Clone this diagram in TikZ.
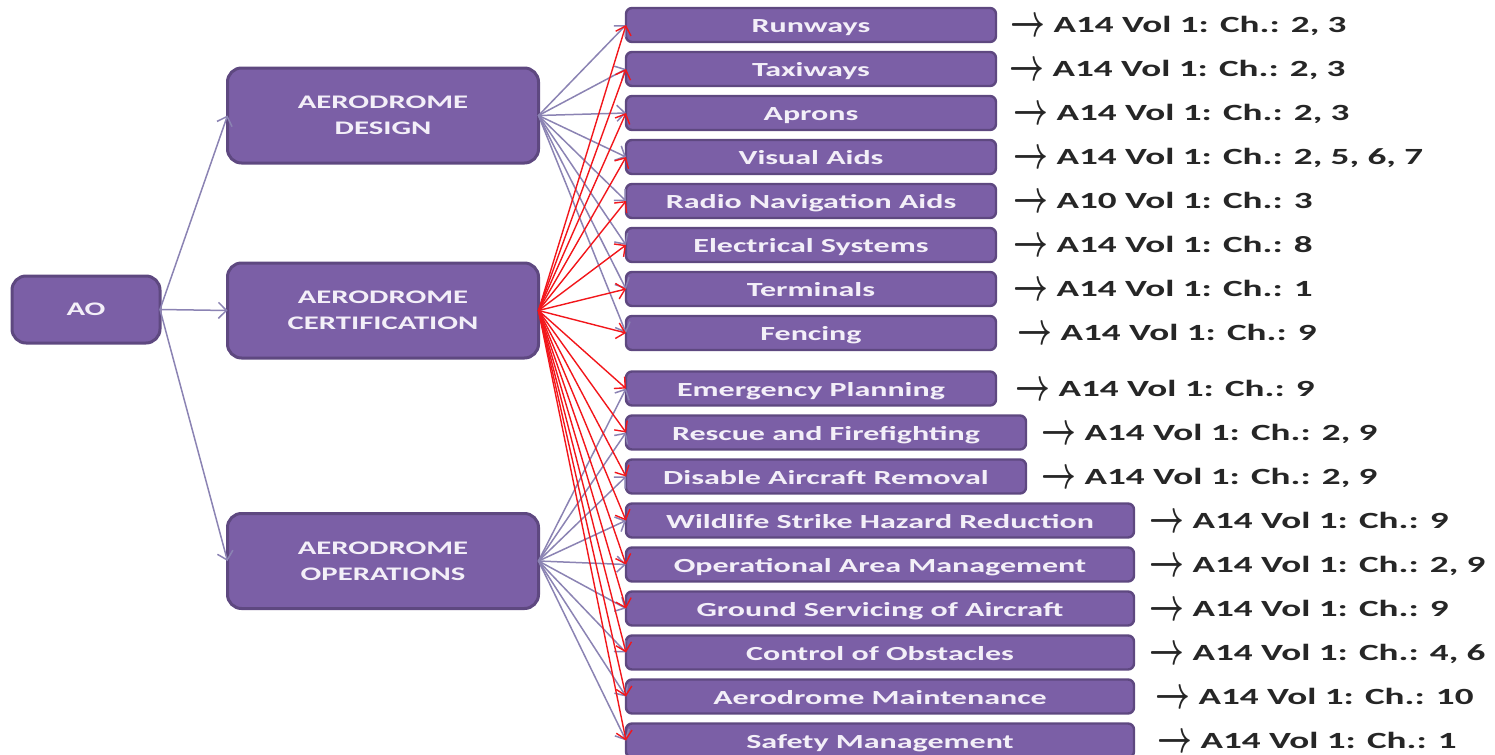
\documentclass[tikz,border=0pt]{standalone}
\usepackage{fontspec}
\usepackage{graphicx}
\setmainfont{Carlito}[FakeStretch = 1.6]
\usetikzlibrary{arrows.meta, positioning}

\definecolor{boxfill}{HTML}{7B5FA6}
\definecolor{boxline}{HTML}{5E4880}
\definecolor{boxtext}{HTML}{F3EFF8}
\definecolor{linkgrey}{HTML}{8B83B3}
\definecolor{linkred}{HTML}{F2161B}

\newcommand\refarrow{\raisebox{-2pt}{\scalebox{1.05}[1.6]{\fontsize{14.5}{14}\selectfont\boldmath$\rightarrow$}}}

\tikzset{%
    topic/.style = {draw = boxline, fill = boxfill, line width = 1.5pt,
        rounded corners = 7pt, outer sep = 0pt, minimum width = 155.5pt,
        minimum height = 47.5pt, align = center, text = boxtext,
        font = \fontsize{9.6}{13}\selectfont\bfseries},
    item/.style = {draw = boxline, fill = boxfill, line width = 1.2pt,
        rounded corners = 3pt, outer sep = 0pt, inner sep = 0pt,
        minimum width = 185pt, minimum height = 17pt, text = boxtext,
        text height = 9.6pt, text depth = 1.8pt,
        font = \fontsize{10}{12}\selectfont\bfseries},
    chapter/.style = {inner sep = 0pt, text = black!85,
        text height = 7.5pt, text depth = 0pt,
        font = \fontsize{11.6}{14}\selectfont\bfseries},
    link/.style = {draw = linkgrey, line width = 0.75pt},
    cert link/.style = {draw = linkred, line width = 0.7pt}
}

\begin{document}
\begin{tikzpicture}[%
        x = 0.5pt,
        y = -0.5pt,
        > = {Straight Barb[length = 4pt, width = 8pt]},
        line cap = round
    ]

        % Page size.
        \useasboundingbox (0, 0) rectangle (1495, 755);

        % Main boxes.
        \node[topic, minimum width = 74pt, minimum height = 33.5pt] (ao) at (86, 309.5) {AO};
        \node[topic] (design) at (383, 115.5) {AERODROME\\DESIGN};
        \node[topic] (cert) at (383, 310.5) {AERODROME\\CERTIFICATION};
        \node[topic] (ops) at (383, 561) {AERODROME\\OPERATIONS};

        % Design items.
        \node[item, anchor = west] (runways) at (626, 25) {Runways};
        \node[item, below right = 5pt and 0pt of runways.south west] (taxiways) {Taxiways};
        \node[item, below right = 5pt and 0pt of taxiways.south west] (aprons) {Aprons};
        \node[item, below right = 5pt and 0pt of aprons.south west] (visual) {Visual Aids};
        \node[item, below right = 5pt and 0pt of visual.south west] (radio) {Radio Navigation Aids};
        \node[item, below right = 5pt and 0pt of radio.south west] (electrical) {Electrical Systems};
        \node[item, below right = 5pt and 0pt of electrical.south west] (terminals) {Terminals};
        \node[item, below right = 5pt and 0pt of terminals.south west] (fencing) {Fencing};

        % Operations items.
        \node[item, below right = 10.75pt and 0pt of fencing.south west] (emergency) {Emergency Planning};
        \node[item, minimum width = 200pt, below right = 5pt and 0pt of emergency.south west] (rescue) {Rescue and Firefighting};
        \node[item, minimum width = 200pt, below right = 5pt and 0pt of rescue.south west] (disable) {Disable Aircraft Removal};
        \node[item, minimum width = 254pt, below right = 5pt and 0pt of disable.south west] (wildlife) {Wildlife Strike Hazard Reduction};
        \node[item, minimum width = 254pt, below right = 5pt and 0pt of wildlife.south west] (area) {Operational Area Management};
        \node[item, minimum width = 254pt, below right = 5pt and 0pt of area.south west] (ground) {Ground Servicing of Aircraft};
        \node[item, minimum width = 254pt, below right = 5pt and 0pt of ground.south west] (obstacles) {Control of Obstacles};
        \node[item, minimum width = 254pt, below right = 5pt and 0pt of obstacles.south west] (maintenance) {Aerodrome Maintenance};
        \node[item, minimum width = 254pt, below right = 5pt and 0pt of maintenance.south west] (safety) {Safety Management};

        % Annex references.
        \foreach \n/\g/\t in {runways/7/{A14 Vol 1: Ch.: 2, 3},
                taxiways/6.5/{A14 Vol 1: Ch.: 2, 3},
                aprons/8.5/{A14 Vol 1: Ch.: 2, 3},
                visual/8.5/{A14 Vol 1: Ch.: 2, 5, 6, 7},
                radio/8.5/{A10 Vol 1: Ch.: 3},
                electrical/8.5/{A14 Vol 1: Ch.: 8},
                terminals/8.5/{A14 Vol 1: Ch.: 1},
                fencing/10.5/{A14 Vol 1: Ch.: 9},
                emergency/9.5/{A14 Vol 1: Ch.: 9},
                rescue/7.5/{A14 Vol 1: Ch.: 2, 9},
                disable/7.5/{A14 Vol 1: Ch.: 2, 9},
                wildlife/7.5/{A14 Vol 1: Ch.: 9},
                area/7.5/{A14 Vol 1: Ch.: 2, 9},
                ground/7.5/{A14 Vol 1: Ch.: 9},
                obstacles/7.5/{A14 Vol 1: Ch.: 4, 6},
                maintenance/10.5/{A14 Vol 1: Ch.: 10},
                safety/11.5/{A14 Vol 1: Ch.: 1}}{%
            \node[chapter, right = \g pt of \n] (\n-ch) {\refarrow\ \t};
        }

        % Links from AO.
        \foreach \n in {design, cert, ops}
            \draw[link, ->] (ao.east) to (\n.west);

        % Design and operations links.
        \foreach \n in {runways, taxiways, aprons, visual, radio, electrical, terminals, fencing}
            \draw[link, ->] (design.east) to (\n.west);
        \foreach \n in {emergency, rescue, disable, wildlife, area, ground, obstacles, maintenance, safety}
            \draw[link, ->] (ops.east) to (\n.west);

        % Certification links.
        \foreach \n in {runways, taxiways, aprons, visual, radio, electrical, terminals, fencing,
                emergency, rescue, disable, wildlife, area, ground, obstacles, maintenance, safety}
            \draw[cert link, ->] (cert.east) to (\n.west);
    \end{tikzpicture}
\end{document}
